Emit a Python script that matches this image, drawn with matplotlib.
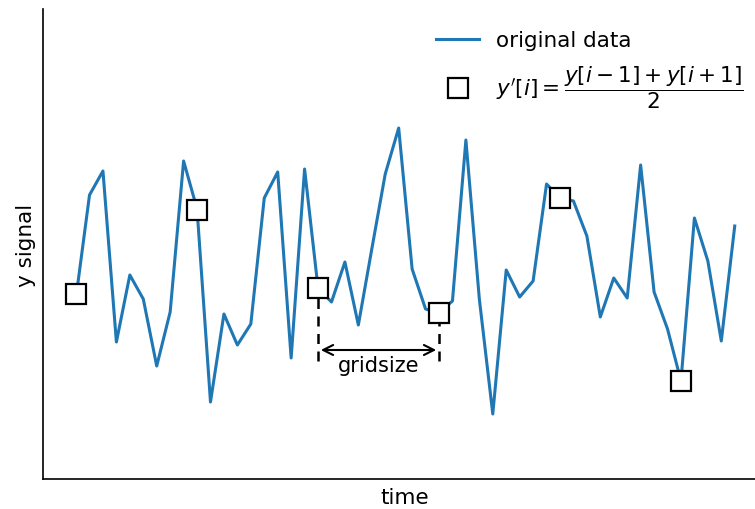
import numpy as np
import matplotlib
matplotlib.use("Agg")
import matplotlib.pyplot as plt

# signal values (one per grid step)
y = [1.82, 2.84, 3.08, 1.37, 2.04, 1.80, 1.13, 1.67, 3.18, 2.70,
     0.77, 1.65, 1.34, 1.55, 2.81, 3.07, 1.21, 3.10, 1.91, 1.77,
     2.17, 1.54, 2.30, 3.05, 3.51, 2.10, 1.70, 1.66, 1.78, 3.39,
     1.80, 0.65, 2.09, 1.82, 1.98, 2.95, 2.81, 2.78, 2.43, 1.62,
     2.01, 1.81, 3.14, 1.87, 1.50, 0.98, 2.61, 2.18, 1.38, 2.53]
x = np.arange(len(y))

step = 9
xs = x[::step]
ys = [1.85, 2.69, 1.91, 1.66, 2.81, 0.98]

fig = plt.figure(figsize=(7.55, 5.1), dpi=100)
ax = fig.add_axes([43/755, 30/510, 724/755, 470/510])

ax.plot(x, y, color='C0', lw=2.2, label='original data', zorder=2)
ax.plot(xs, ys, 's', ms=14, mfc='white', mec='black', mew=1.6, zorder=4,
        label=r"$y'[i] = \dfrac{y[i-1] + y[i+1]}{2}$")

# gridsize annotation between two sampled points
a, b = 2, 3
ax.vlines([xs[a], xs[b]], 1.18, [ys[a], ys[b]], colors='black',
          linestyles=(0, (4, 3)), lw=1.8, zorder=3)
ax.annotate('', xy=(xs[a], 1.29), xytext=(xs[b], 1.29),
            arrowprops=dict(arrowstyle='<->', color='black', lw=1.5,
                            shrinkA=2, shrinkB=2, mutation_scale=18))
ax.text((xs[a] + xs[b]) / 2, 1.14, 'gridsize', ha='center', va='center',
        fontsize=15)

ax.set_xlim(-2.46, 51.4)
ax.set_ylim(0, 4.7)
ax.set_xticks([])
ax.set_yticks([])
ax.spines['top'].set_visible(False)
ax.spines['right'].set_visible(False)
ax.spines['left'].set_linewidth(1.2)
ax.spines['bottom'].set_linewidth(1.2)

ax.set_xlabel('time', fontsize=15.5, labelpad=6)
ax.set_ylabel('y signal', fontsize=15.5, labelpad=5)

ax.legend(loc='upper right', frameon=False, fontsize=15.5,
          bbox_to_anchor=(0.995, 0.996), handlelength=2.0, labelspacing=0.62)

fig.savefig('out.png', dpi=100)
